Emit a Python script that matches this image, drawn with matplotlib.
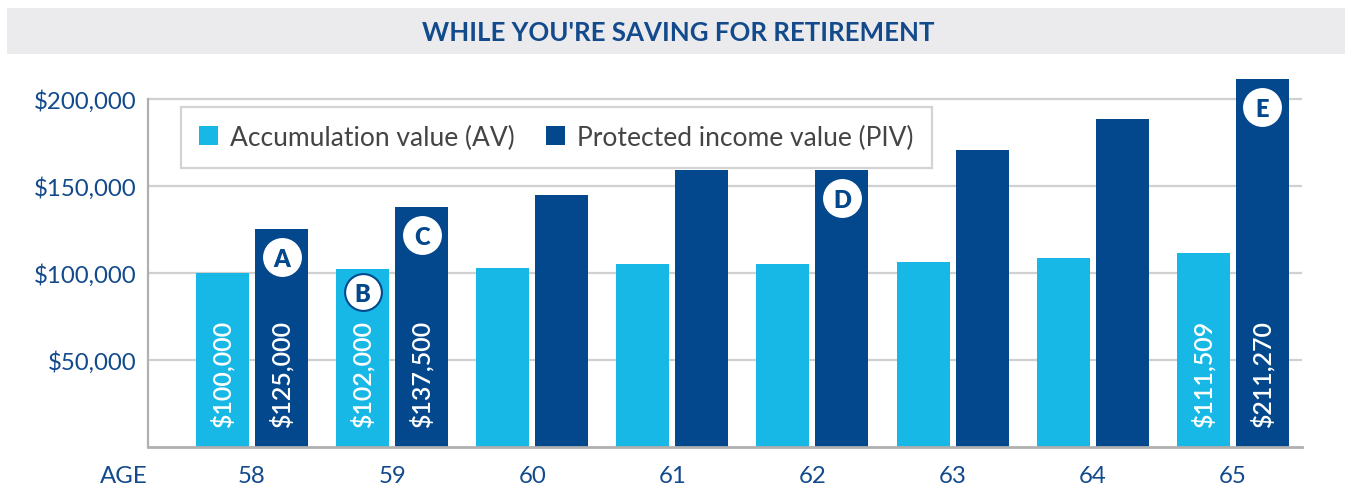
import matplotlib
matplotlib.use("Agg")
import matplotlib.pyplot as plt
from matplotlib.patches import Rectangle, Patch
import numpy as np

# ---- data ----
ages = ["58", "59", "60", "61", "62", "63", "64", "65"]
av_values = [100000, 102000, 103000, 105000, 105000, 106200, 108500, 111509]
piv_values = [125000, 137500, 144400, 159000, 159000, 170400, 188200, 211270]
labeled_idx = [0, 1, 7]
markers = [("A", "piv", 0), ("B", "av", 1), ("C", "piv", 1), ("D", "piv", 4), ("E", "piv", 7)]
y_ticks = [50000, 100000, 150000, 200000]
title = "WHILE YOU'RE SAVING FOR RETIREMENT"
legend_labels = ["Accumulation value (AV)", "Protected income value (PIV)"]

# ---- style ----
LIGHT = "#17b8e5"
DARK = "#03478c"
TXT = "#124a8c"
GRID = "#d0d0d0"
SPINE = "#b0b0b0"
FONT = "Lato"
plt.rcParams["font.family"] = [FONT, "DejaVu Sans"]

W, H = 1351, 485
fig = plt.figure(figsize=(W / 100, H / 100), dpi=100)

# title band
fig.patches.append(Rectangle((7 / W, (H - 55) / H), (1345 - 7) / W, 46 / H,
                             transform=fig.transFigure, facecolor="#ebebed",
                             edgecolor="none", zorder=0))
fig.text(678 / W, (H - 33) / H, title, ha="center", va="center",
         fontsize=18.6, fontweight="bold", color=TXT)

# axes geometry
base_px = 448
px_per_unit = 348.5 / 200000
ytop = 216000
ax_left = 148 / W
ax_w = (1302 - 148) / W
ax_b = (H - base_px) / H
ax_h = ytop * px_per_unit / H
ax = fig.add_axes([ax_left, ax_b, ax_w, ax_h])
ax.set_facecolor("none")

x = np.arange(len(ages))
spacing = 140.1
bw = 53 / spacing
gap = 6 / spacing
off = (bw + gap) / 2

ax.set_xlim(-104 / spacing, (1302 - 252) / spacing)
ax.set_ylim(0, ytop)

bars_av = ax.bar(x - off, av_values, bw, color=LIGHT, zorder=3)
bars_piv = ax.bar(x + off, piv_values, bw, color=DARK, zorder=3)

# grid
for yv in y_ticks:
    ax.axhline(yv, color=GRID, lw=1.6, zorder=1)

for s in ["top", "right"]:
    ax.spines[s].set_visible(False)
ax.spines["left"].set_bounds(0, 200000)
ax.spines["left"].set_color(SPINE)
ax.spines["bottom"].set_color(SPINE)
ax.spines["left"].set_linewidth(1.6)
ax.spines["bottom"].set_linewidth(2)
ax.spines["bottom"].set_zorder(4)

ax.set_yticks(y_ticks)
ax.set_yticklabels(["${:,}".format(v) for v in y_ticks])
ax.set_xticks(x)
ax.set_xticklabels(ages)
ax.tick_params(axis="y", length=0, pad=8, labelsize=17.3, labelcolor=TXT)
ax.tick_params(axis="x", length=0, pad=13, labelsize=17.3, labelcolor=TXT)

ax.annotate("AGE", xy=(0, 0), xycoords="axes fraction", xytext=(0, -13),
            textcoords="offset points", ha="right", va="top", fontsize=17.3,
            color=TXT)

# value labels
for i in labeled_idx:
    for xx, val in ((x[i] - off, av_values[i]), (x[i] + off, piv_values[i])):
        ax.annotate("${:,}".format(val), xy=(xx, 0), xytext=(0, 14.5),
                    textcoords="offset points", rotation=90, ha="center",
                    va="bottom", color="white", fontsize=18, fontweight="semibold",
                    zorder=5)

# letter markers
for letter, series, i in markers:
    if series == "av":
        xx, top = x[i] - off, av_values[i]
        dy = 23 / px_per_unit
        edge = DARK
    else:
        xx, top = x[i] + off, piv_values[i]
        dy = 28 / px_per_unit
        edge = "white"
    yy = top - dy
    ax.plot([xx], [yy], marker="o", ms=26.5, mfc="white", mec=edge, mew=1.5,
            zorder=6, clip_on=False)
    ax.text(xx, yy, letter, ha="center", va="center_baseline", fontsize=17,
            fontweight="heavy", color=DARK, zorder=7)

# legend
handles = [Patch(facecolor=LIGHT, edgecolor="none"),
           Patch(facecolor=DARK, edgecolor="none")]
leg = ax.legend(handles, legend_labels, ncol=2, loc="upper left",
                bbox_to_anchor=(181 / W, (H - 108) / H),
                bbox_transform=fig.transFigure, frameon=True, fancybox=False,
                edgecolor="#c8c8c8", fontsize=19, handlelength=0.72,
                handleheight=0.72, handletextpad=0.45, columnspacing=1.2,
                borderpad=0.68, borderaxespad=0)
leg.get_frame().set_linewidth(1.6)
for t in leg.get_texts():
    t.set_color("#444444")
leg.set_zorder(8)

fig.savefig("out.png", dpi=100)
